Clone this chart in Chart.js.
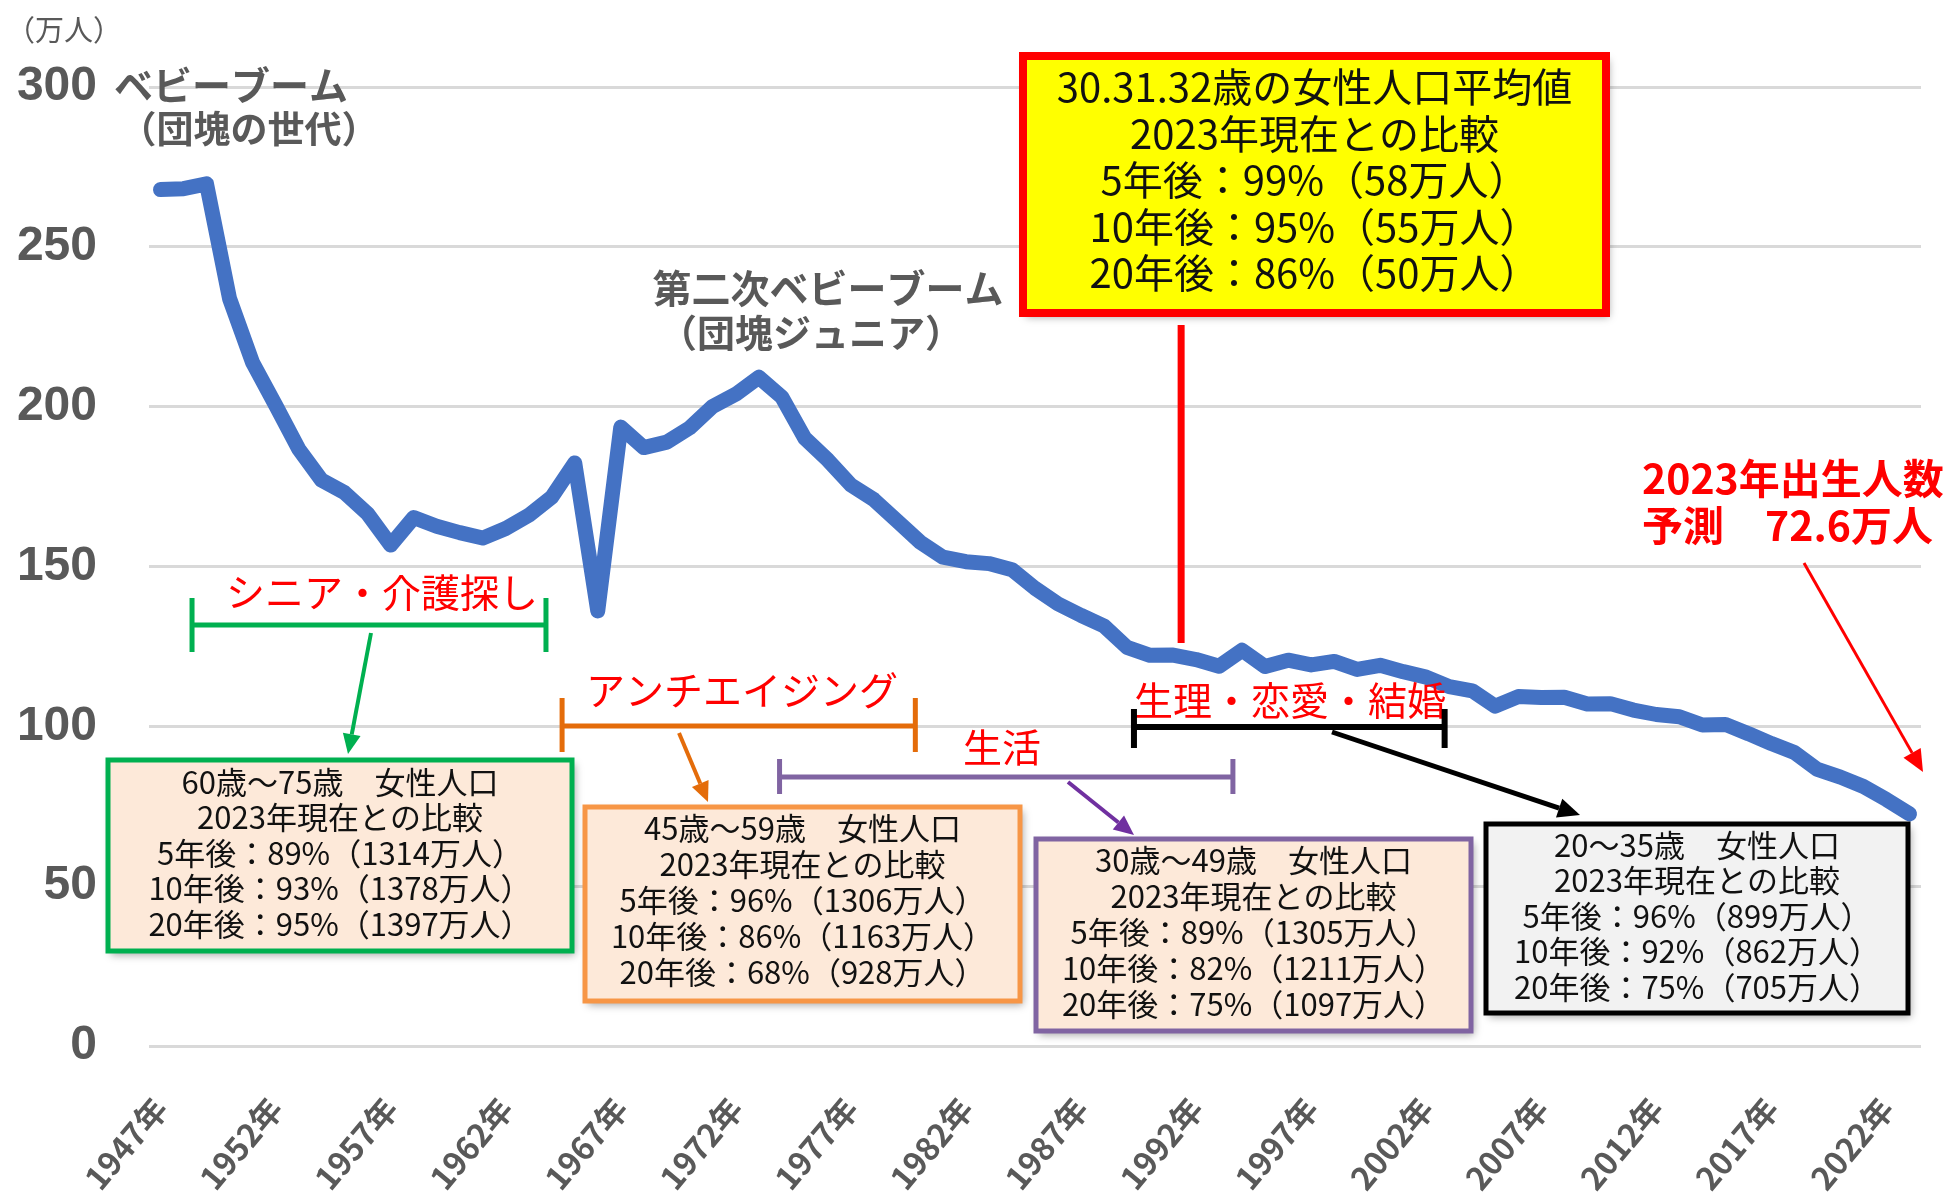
<!DOCTYPE html>
<html lang="ja">
<head>
<meta charset="utf-8">
<title>出生数の推移</title>
<script src="https://cdn.jsdelivr.net/npm/chart.js@4.4.1/dist/chart.umd.min.js"></script>
<style>
  html, body { margin: 0; padding: 0; background: #fff; }
  #wrap { width: 1946px; height: 1192px; }
</style>
</head>
<body>
<div id="wrap"><canvas id="birthChart" width="1946" height="1192"></canvas></div>
<script>
// 年（1947年〜2023年）
const years = [
  1947, 1948, 1949, 1950, 1951, 1952, 1953, 1954, 1955, 1956,
  1957, 1958, 1959, 1960, 1961, 1962, 1963, 1964, 1965, 1966,
  1967, 1968, 1969, 1970, 1971, 1972, 1973, 1974, 1975, 1976,
  1977, 1978, 1979, 1980, 1981, 1982, 1983, 1984, 1985, 1986,
  1987, 1988, 1989, 1990, 1991, 1992, 1993, 1994, 1995, 1996,
  1997, 1998, 1999, 2000, 2001, 2002, 2003, 2004, 2005, 2006,
  2007, 2008, 2009, 2010, 2011, 2012, 2013, 2014, 2015, 2016,
  2017, 2018, 2019, 2020, 2021, 2022, 2023
];

// 出生数（万人）
const births = [
  267.9, 268.2, 269.7, 233.8, 213.8, 200.5, 186.8, 177.0, 173.1, 166.5,
  156.7, 165.3, 162.6, 160.6, 158.9, 161.9, 166.0, 171.7, 182.4, 136.1,
  193.6, 187.2, 188.9, 193.4, 200.1, 203.9, 209.2, 203.0, 190.1, 183.3,
  175.5, 170.9, 164.3, 157.7, 152.9, 151.5, 150.9, 149.0, 143.2, 138.3,
  134.7, 131.4, 124.7, 122.2, 122.3, 120.9, 118.8, 123.8, 118.7, 120.7,
  119.2, 120.3, 117.8, 119.1, 117.1, 115.4, 112.4, 111.1, 106.3, 109.3,
  109.0, 109.1, 107.0, 107.1, 105.1, 103.7, 103.0, 100.4, 100.6, 97.7,
  94.6, 91.8, 86.5, 84.1, 81.2, 77.1, 72.6
];

// 軸の目盛り
const labelYears = [1947, 1952, 1957, 1962, 1967, 1972, 1977, 1982, 1987, 1992, 1997, 2002, 2007, 2012, 2017, 2022];
const yTicks = [0, 50, 100, 150, 200, 250, 300];

// 注記の文字
const averageLines = ['30.31.32歳の女性人口平均値', '2023年現在との比較', '5年後：99%（58万人）', '10年後：95%（55万人）', '20年後：86%（50万人）'];
const seniorLines = ['60歳～75歳　女性人口', '2023年現在との比較', '5年後：89%（1314万人）', '10年後：93%（1378万人）', '20年後：95%（1397万人）'];
const antiAgingLines = ['45歳～59歳　女性人口', '2023年現在との比較', '5年後：96%（1306万人）', '10年後：86%（1163万人）', '20年後：68%（928万人）'];
const lifeLines = ['30歳～49歳　女性人口', '2023年現在との比較', '5年後：89%（1305万人）', '10年後：82%（1211万人）', '20年後：75%（1097万人）'];
const youngLines = ['20～35歳　女性人口', '2023年現在との比較', '5年後：96%（899万人）', '10年後：92%（862万人）', '20年後：75%（705万人）'];

const JP = '"Noto Sans CJK JP", "Noto Sans", sans-serif';
const GRAY = '#595959';

// 描画の補助
const drawText = (ctx, text, x, y, font, color, align) => {
  ctx.font = font;
  ctx.fillStyle = color;
  ctx.textAlign = align || 'center';
  ctx.textBaseline = 'middle';
  ctx.fillText(text, x, y);
};

const drawArrow = (ctx, x1, y1, x2, y2, color, width, head) => {
  const ang = Math.atan2(y2 - y1, x2 - x1);
  const bx = x2 - head * Math.cos(ang);
  const by = y2 - head * Math.sin(ang);
  ctx.strokeStyle = color;
  ctx.lineWidth = width;
  ctx.lineCap = 'butt';
  ctx.beginPath();
  ctx.moveTo(x1, y1);
  ctx.lineTo(bx, by);
  ctx.stroke();
  ctx.fillStyle = color;
  ctx.beginPath();
  ctx.moveTo(x2, y2);
  ctx.lineTo(bx + head * 0.45 * Math.sin(ang), by - head * 0.45 * Math.cos(ang));
  ctx.lineTo(bx - head * 0.45 * Math.sin(ang), by + head * 0.45 * Math.cos(ang));
  ctx.closePath();
  ctx.fill();
};

const drawBracket = (ctx, xa, xb, y, up, down, color, width) => {
  ctx.strokeStyle = color;
  ctx.lineWidth = width;
  ctx.lineCap = 'butt';
  ctx.beginPath();
  ctx.moveTo(xa, y);
  ctx.lineTo(xb, y);
  ctx.moveTo(xa, y - up);
  ctx.lineTo(xa, y + down);
  ctx.moveTo(xb, y - up);
  ctx.lineTo(xb, y + down);
  ctx.stroke();
};

const drawBox = (ctx, b) => {
  ctx.save();
  ctx.shadowColor = 'rgba(0, 0, 0, 0.35)';
  ctx.shadowBlur = 8;
  ctx.shadowOffsetX = 3;
  ctx.shadowOffsetY = 4;
  ctx.fillStyle = b.fill;
  ctx.fillRect(b.x, b.y, b.w, b.h);
  ctx.restore();
  ctx.strokeStyle = b.stroke;
  ctx.lineWidth = b.lw;
  ctx.strokeRect(b.x, b.y, b.w, b.h);
  b.lines.forEach((t, i) => {
    drawText(ctx, t, b.x + b.w / 2, b.y + b.first + i * b.step, b.size + 'px ' + JP, '#111111');
  });
};

// 注記プラグイン
const annotationPlugin = {
  id: 'annotations',
  afterDatasetsDraw(chart) {
    const { ctx } = chart;
    const xs = chart.scales.x;
    const x0 = xs.getPixelForValue(0);
    const step = xs.getPixelForValue(1) - x0;
    const xAt = yr => x0 + (yr - years[0]) * step;

    ctx.save();

    // 単位
    drawText(ctx, '（万人）', 6, 30, '29px ' + JP, GRAY, 'left');

    // ベビーブーム
    drawText(ctx, 'ベビーブーム', 231, 85, 'bold 39px ' + JP, GRAY);
    drawText(ctx, '（団塊の世代）', 249, 129, 'bold 37px ' + JP, GRAY);
    drawText(ctx, '第二次ベビーブーム', 828, 288, 'bold 39px ' + JP, GRAY);
    drawText(ctx, '（団塊ジュニア）', 811, 333, 'bold 38px ' + JP, GRAY);

    // 30.31.32歳
    ctx.strokeStyle = '#FF0000';
    ctx.lineWidth = 7;
    ctx.beginPath();
    ctx.moveTo(xAt(1991.35), 325);
    ctx.lineTo(xAt(1991.35), 643);
    ctx.stroke();
    drawBox(ctx, { x: 1023, y: 56, w: 583, h: 257, fill: '#FFFF00', stroke: '#FF0000', lw: 8,
      lines: averageLines, size: 40, first: 31, step: 46.5 });

    // 2023年予測
    drawText(ctx, '2023年出生人数', 1642, 478, 'bold 41px ' + JP, '#FF0000', 'left');
    drawText(ctx, '予測　72.6万人', 1642, 525, 'bold 41px ' + JP, '#FF0000', 'left');
    drawArrow(ctx, 1804, 563, 1923, 772, '#FF0000', 3, 22);

    // シニア・介護探し
    drawText(ctx, 'シニア・介護探し', 382, 592, '39px ' + JP, '#FF0000');
    drawBracket(ctx, xAt(1948.37), xAt(1963.75), 625, 27, 27, '#00B050', 5);
    drawArrow(ctx, 371, 633, 348, 754, '#00B050', 4, 20);
    drawBox(ctx, { x: 108, y: 760, w: 464, h: 191, fill: '#FDE9D9', stroke: '#00B050', lw: 5,
      lines: seniorLines, size: 31, first: 22, step: 35.5 });

    // アンチエイジング
    drawText(ctx, 'アンチエイジング', 742, 690, '39px ' + JP, '#FF0000');
    drawBracket(ctx, xAt(1964.45), xAt(1979.8), 726, 28, 26, '#E46C0A', 5);
    drawArrow(ctx, 679, 733, 708, 802, '#E46C0A', 4, 20);
    drawBox(ctx, { x: 585, y: 807, w: 435, h: 194, fill: '#FDE9D9', stroke: '#F79646', lw: 5,
      lines: antiAgingLines, size: 31, first: 21, step: 36 });

    // 生活
    drawText(ctx, '生活', 1002, 747, '39px ' + JP, '#FF0000');
    drawBracket(ctx, xAt(1973.9), xAt(1993.6), 777, 18, 17, '#8064A2', 5);
    drawArrow(ctx, 1068, 782, 1134, 835, '#7030A0', 4, 20);
    drawBox(ctx, { x: 1036, y: 839, w: 435, h: 192, fill: '#FDE9D9', stroke: '#8064A2', lw: 5,
      lines: lifeLines, size: 31, first: 21, step: 36 });

    // 生理・恋愛・結婚
    drawText(ctx, '生理・恋愛・結婚', 1290, 700, '39px ' + JP, '#FF0000');
    drawBracket(ctx, xAt(1989.3), xAt(2002.8), 727, 18, 21, '#000000', 6);
    drawArrow(ctx, 1332, 732, 1580, 815, '#000000', 5, 22);
    drawBox(ctx, { x: 1486, y: 824, w: 422, h: 189, fill: '#F2F2F2', stroke: '#000000', lw: 5,
      lines: youngLines, size: 31, first: 21, step: 35.5 });

    ctx.restore();
  }
};

const ctx = document.getElementById('birthChart').getContext('2d');

const birthChart = new Chart(ctx, {
  type: 'line',
  data: {
    labels: years.map(y => y + '年'),
    datasets: [{
      label: '出生数（万人）',
      data: births,
      borderColor: '#4472C4',
      borderWidth: 15,
      borderJoinStyle: 'round',
      borderCapStyle: 'round',
      pointRadius: 0,
      tension: 0,
      fill: false
    }]
  },
  options: {
    responsive: false,
    animation: false,
    layout: { padding: { top: 87, right: 25, left: 0, bottom: 0 } },
    plugins: {
      legend: { display: false },
      tooltip: { enabled: false }
    },
    scales: {
      x: {
        offset: true,
        grid: { display: false },
        border: { display: false },
        ticks: {
          autoSkip: false,
          minRotation: 50,
          maxRotation: 50,
          padding: 36,
          color: GRAY,
          font: { family: JP, size: 32, weight: 'bold' },
          callback: function (value, index) {
            return labelYears.includes(years[index]) ? this.getLabelForValue(value) : '';
          }
        },
        afterFit: (scale) => {
          scale.height = 146;
          scale.paddingLeft = 0;
          scale.paddingRight = 0;
        }
      },
      y: {
        min: 0,
        max: 300,
        afterBuildTicks: (scale) => { scale.ticks = yTicks.map(v => ({ value: v })); },
        grid: { color: '#D9D9D9', lineWidth: 3, drawTicks: false },
        border: { display: false },
        ticks: {
          padding: 52,
          color: GRAY,
          font: { family: '"Liberation Sans", sans-serif', size: 48, weight: 'bold' }
        },
        afterFit: (scale) => { scale.width = 149; }
      }
    }
  },
  plugins: [annotationPlugin]
});
</script>
</body>
</html>
